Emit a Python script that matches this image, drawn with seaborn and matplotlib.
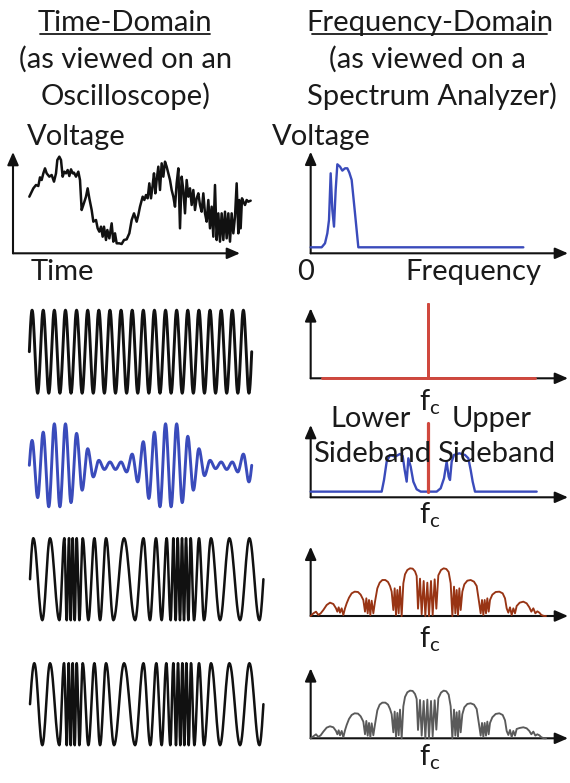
import numpy as np
import matplotlib
matplotlib.use("Agg")
import matplotlib.pyplot as plt
from matplotlib.lines import Line2D
import seaborn as sns

# ---------------- data ----------------
# Row 1, time domain: noisy voltage trace (arbitrary time / voltage units)
noisy_t = [0, 12, 20, 27, 32, 37, 42, 47, 52, 60,
           67, 74, 80, 84, 90, 95, 100, 105, 110, 115,
           120, 125, 130, 134, 140, 147, 152, 157, 162, 170,
           175, 180, 187, 192, 200, 205, 210, 215, 220, 224,
           230, 234, 240, 247, 252, 257, 262, 270, 277, 284,
           292, 300, 307, 314, 322, 327, 332, 340, 345, 350,
           355, 360, 365, 370, 374, 378, 382, 387, 392, 397,
           402, 407, 412, 417, 422, 427, 432, 437, 442, 447,
           452, 457, 462, 467, 472, 477, 482, 487, 492, 497,
           502, 507, 512, 517, 522, 527, 532, 537, 542, 547,
           552, 557, 562, 567, 572, 577, 582, 587, 592, 597,
           602, 607, 612, 617, 622, 627, 630, 634, 638, 642,
           647, 652, 657, 664]
noisy_v = [30, 55, 65, 62, 88, 80, 100, 115, 100, 90,
           95, 75, 100, 140, 150, 140, 90, 105, 100, 110,
           92, 112, 100, 102, 90, 105, 80, -10, 5, 30,
           55, 25, -10, -45, -40, -65, -75, -60, -90, -60,
           -100, -70, -95, -50, -105, -80, -110, -110, -112, -100,
           -98, -80, -40, -20, -45, -25, 0, 30, 20, 35,
           25, 70, 25, 65, 100, 40, 80, 120, 50, 130,
           90, 135, 120, 100, 80, 50, 30, 0, 70, 115,
           -65, 90, 50, -20, 80, 30, 55, 5, 50, -10,
           25, 40, 5, -15, 40, -20, -45, 20, -65, 0,
           -90, 65, -100, -20, -105, -20, -100, -15, -95, -20,
           -105, -20, -80, -30, 70, -80, 20, -65, 25, 15,
           5, 20, 15, 18]

# Row 1, frequency domain: baseband spectrum
base_f = [0, 33, 43, 50, 55, 60, 65, 70, 75, 80, 88, 95, 103, 110, 116, 123, 133, 143, 638]
base_a = [18, 18, 30, 60, 100, 240, 130, 80, 190, 267, 260, 248, 255, 255, 242, 220, 120, 18, 18]

# Row 2: carrier (extrema times in carrier periods, normalised values)
carrier_t = [0, 0.25, 0.75, 1.25, 1.75, 2.25, 2.75, 3.25, 3.75, 4.25, 4.75,
             5.25, 5.75, 6.25, 6.75, 7.25, 7.75, 8.25, 8.75, 9.25, 9.75,
             10.25, 10.75, 11.25, 11.75, 12.25, 12.75, 13.25, 13.75, 14.25, 14.75,
             15.25, 15.75, 16.25, 16.75, 17.25, 17.75, 18.25, 18.75, 19.25, 19.75, 20]
carrier_v = [0, 1, -1, 1, -1, 1, -1, 1, -1, 1, -1,
             1, -1, 1, -1, 1, -1, 1, -1, 1, -1,
             1, -1, 1, -1, 1, -1, 1, -1, 1, -1,
             1, -1, 1, -1, 1, -1, 1, -1, 1, -1, 0]
carrier_f = [33, 353, 353, 353, 673]
carrier_a = [0, 0, 223, 0, 0]

# Row 3: AM
am_t = carrier_t
am_v = [0, 0.60, -0.78, 0.80, -1.0, 1.0, -1.0, 1.0, -0.90, 0.77, -0.60,
        0.40, -0.28, 0.12, -0.10, 0.08, -0.10, 0.08, -0.16, 0.27, -0.40,
        0.57, -0.80, 0.80, -1.0, 1.0, -1.0, 1.0, -0.90, 0.70, -0.60,
        0.40, -0.25, 0.12, -0.08, 0.08, -0.10, 0.08, -0.16, 0.27, -0.40, 0]
am_f = [0, 213, 220, 228, 238, 253, 268, 276, 282, 288, 293, 300, 308, 318, 330,
        378, 390, 400, 408, 414, 418, 423, 430, 446, 463, 473, 480, 486, 493, 678]
am_a = [17, 17, 52, 107, 127, 122, 130, 124, 82, 47, 117, 92, 47, 24, 17,
        17, 27, 57, 107, 62, 52, 107, 127, 132, 127, 117, 82, 47, 17, 17]
am_carrier_f = [353, 353]
am_carrier_a = [17, 222]

# Row 4: FM
fm_t = [0.0, 0.30, 1.11, 1.80, 2.64, 3.09, 3.30, 3.51, 3.66, 3.84, 4.02,
        4.20, 4.44, 4.74, 5.25, 5.79, 6.30, 6.84, 7.50, 8.46, 9.45,
        10.20, 10.79, 11.33, 11.84, 12.29, 12.65, 12.89, 13.10, 13.28, 13.49,
        13.67, 13.85, 14.03, 14.24, 14.45, 14.75, 15.20, 15.65, 16.28, 17.09,
        17.93, 18.89, 19.73, 20.63, 20.99]
fm_v = [0, 1, -1, 1, -1, 1, -1, 1, -1, 1, -1,
        1, -1, 1, -1, 1, -1, 1, -1, 1, -1,
        1, -1, 1, -1, 1, -1, 1, -1, 1, -1,
        1, -1, 1, -1, 1, -1, 1, -1, 1, -1,
        1, -1, 1, -1, 0]
fm_f = [0, 8, 16, 23, 30, 38, 48, 58, 68, 76,
        80, 84, 88, 93, 98, 103, 108, 115, 123, 132,
        142, 150, 158, 163, 167, 171, 175, 179, 183, 188,
        193, 200, 207, 215, 224, 232, 238, 243, 248, 252,
        256, 260, 264, 268, 273, 278, 283, 290, 298, 306,
        313, 318, 322, 328, 333, 339, 344, 350, 355, 361,
        366, 372, 377, 383, 391, 399, 407, 414, 420, 425,
        430, 434, 438, 442, 446, 450, 455, 461, 470, 480,
        490, 498, 505, 510, 514, 518, 522, 526, 530, 534,
        538, 545, 555, 566, 576, 583, 588, 593, 598, 603,
        608, 613, 618, 627, 638, 648, 656, 662, 668, 674,
        680, 686, 692, 700, 706]
fm_a = [0, 8, 13, 3, 8, 18, 33, 40, 36, 23,
        13, 26, 10, 23, 3, 23, 38, 55, 68, 73,
        72, 64, 48, 13, 53, 8, 48, 3, 46, 8,
        43, 83, 100, 108, 108, 102, 90, 73, 18, 83,
        3, 78, 8, 88, 0, 98, 125, 138, 143, 142,
        134, 120, 22, 112, 5, 105, 0, 100, 0, 105,
        3, 110, 22, 122, 138, 143, 141, 132, 98, 0,
        88, 8, 78, 3, 83, 18, 73, 95, 106, 108,
        103, 90, 43, 8, 48, 3, 48, 8, 53, 13,
        48, 64, 72, 73, 68, 53, 23, 10, 26, 3,
        23, 8, 30, 40, 43, 38, 26, 13, 23, 8,
        14, 10, 3, 0, 0]

# Row 5: PM
pm_t = [0.0, 0.39, 1.11, 1.80, 2.64, 3.06, 3.30, 3.48, 3.66, 3.84, 4.02,
        4.20, 4.44, 4.74, 5.25, 5.79, 6.30, 6.84, 7.56, 8.46, 9.45,
        10.20, 10.82, 11.36, 11.84, 12.26, 12.62, 12.89, 13.13, 13.31, 13.52,
        13.70, 13.88, 14.06, 14.27, 14.48, 14.78, 15.20, 15.65, 16.28, 17.09,
        17.93, 18.89, 19.73, 20.63, 20.99]
pm_v = fm_v
pm_f = fm_f
pm_a = [0, 6, 12, 4, 9, 20, 32, 36, 33, 22,
        12, 24, 9, 22, 3, 24, 40, 58, 70, 75,
        74, 66, 50, 12, 52, 8, 46, 3, 45, 9,
        42, 84, 101, 107, 107, 101, 88, 72, 18, 80,
        4, 76, 9, 86, 0, 96, 124, 138, 143, 142,
        133, 118, 25, 115, 8, 112, 0, 116, 0, 112,
        6, 114, 26, 120, 137, 143, 141, 131, 96, 0,
        86, 8, 78, 4, 82, 18, 72, 93, 103, 105,
        101, 88, 42, 8, 46, 4, 46, 8, 50, 12,
        46, 63, 73, 75, 70, 54, 22, 10, 25, 4,
        22, 8, 28, 31, 33, 30, 22, 12, 20, 8,
        12, 9, 3, 0, 0]

# ---------------- styling ----------------
sns.set_style("white")
plt.rcParams['font.family'] = ['Lato', 'DejaVu Sans']
plt.rcParams['mathtext.fontset'] = 'custom'
plt.rcParams['mathtext.rm'] = 'Lato'
plt.rcParams['mathtext.it'] = 'Lato:italic'

BLACK = '#111111'
BLUE = '#3a4bbb'
RED = '#d0483e'
BROWN = '#983414'
GRAY = '#5a5a5a'
TXT = '#1a1a1a'
FS = 21

W, H = 570, 783
fig = plt.figure(figsize=(W / 100, H / 100), dpi=100)
fig.patch.set_facecolor('white')


def panel(x0, x1, ytop, ybot, xmap, ymap):
    ax = fig.add_axes([x0 / W, 1 - ybot / H, (x1 - x0) / W, (ybot - ytop) / H])
    ax.patch.set_alpha(0)
    ax._box = (x0, x1, ytop, ybot, xmap, ymap)
    return ax


def finish(ax):
    x0, x1, ytop, ybot, xmap, ymap = ax._box
    d0, p0, s = xmap
    ax.set_xlim(d0 + (x0 - p0) / s, d0 + (x1 - p0) / s)
    d0, p0, s = ymap
    ax.set_ylim(d0 + (ybot - p0) / s, d0 + (ytop - p0) / s)
    ax.set_xlabel('')
    ax.set_ylabel('')
    ax.axis('off')


def arrows(ax):
    kw = dict(arrowstyle='-|>,head_length=0.55,head_width=0.24', color=BLACK,
              lw=1.5, mutation_scale=14, shrinkA=0, shrinkB=0)
    ax.annotate('', xy=(1, 0), xytext=(0, 0), xycoords='axes fraction',
                textcoords='axes fraction', arrowprops=kw, annotation_clip=False)
    ax.annotate('', xy=(0, 1), xytext=(0, 0), xycoords='axes fraction',
                textcoords='axes fraction', arrowprops=kw, annotation_clip=False)


def smooth(t, v, n=14):
    xs, ys = [], []
    for i in range(len(t) - 1):
        a, b = v[i], v[i + 1]
        s = np.linspace(0, 1, n, endpoint=False)
        if a == 0:
            y = b * np.sin(np.pi / 2 * s)
        elif b == 0:
            y = a * np.cos(np.pi / 2 * s)
        else:
            y = (a + b) / 2 + (a - b) / 2 * np.cos(np.pi * s)
        xs.extend(t[i] + (t[i + 1] - t[i]) * s)
        ys.extend(y)
    xs.append(t[-1])
    ys.append(v[-1])
    return np.array(xs), np.array(ys)


def line(ax, x, y, color, lw):
    sns.lineplot(x=np.asarray(x, float), y=np.asarray(y, float), ax=ax, color=color,
                 linewidth=lw, estimator=None, sort=False, clip_on=False, zorder=4)


# ---------------- left column (time domain) ----------------
ax = panel(13, 240, 152, 253.3, (0, 29.33, 1 / 3), (200, 140, -1 / 3))
line(ax, noisy_t, noisy_v, BLACK, 1.8)
arrows(ax)
finish(ax)

ax = panel(13, 265, 300, 404, (0, 29.33, 11.12), (0, 351.7, -41.5))
x, y = smooth(carrier_t, carrier_v)
line(ax, x, y, BLACK, 2.1)
finish(ax)

ax = panel(13, 265, 413, 517, (0, 29.33, 11.12), (0, 465.3, -41.5))
x, y = smooth(am_t, am_v)
line(ax, x, y, BLUE, 2.1)
finish(ax)

ax = panel(13, 265, 528, 632, (0, 30.0, 11.12), (0, 579.2, -41.0))
x, y = smooth(fm_t, fm_v)
line(ax, x, y, BLACK, 1.8)
finish(ax)

ax = panel(13, 265, 652, 756, (0, 30.0, 11.12), (0, 704.2, -41.0))
x, y = smooth(pm_t, pm_v)
line(ax, x, y, BLACK, 1.8)
finish(ax)

# ---------------- right column (frequency domain) ----------------
RX0, RX1 = 310.67, 568

ax = panel(RX0, RX1, 151.7, 253.3, (0, RX0, 1 / 3), (0, 253.3, -1 / 3))
line(ax, base_f, base_a, BLUE, 1.7)
arrows(ax)
finish(ax)

ax = panel(RX0, RX1, 308.3, 378.3, (0, RX0, 1 / 3), (0, 378.3, -1 / 3))
arrows(ax)
line(ax, carrier_f, carrier_a, RED, 2.1)
finish(ax)

ax = panel(RX0, RX1, 425, 497.3, (0, RX0, 1 / 3), (0, 497.3, -1 / 3))
arrows(ax)
line(ax, am_f, am_a, BLUE, 1.7)
line(ax, am_carrier_f, am_carrier_a, RED, 2.3)
finish(ax)

ax = panel(RX0, RX1, 546.7, 616, (0, RX0, 1 / 3), (0, 616, -1 / 3))
arrows(ax)
line(ax, fm_f, fm_a, BROWN, 1.35)
finish(ax)

ax = panel(RX0, RX1, 668.3, 738.3, (0, RX0, 1 / 3), (0, 738.3, -1 / 3))
arrows(ax)
line(ax, pm_f, pm_a, GRAY, 1.35)
finish(ax)

# ---------------- text ----------------
def txt(x, y, s, ha='left', size=FS):
    fig.text(x / W, 1 - y / H, s, ha=ha, va='baseline', fontsize=size, color=TXT)


def underline(x0, x1, y):
    fig.add_artist(Line2D([x0 / W, x1 / W], [1 - y / H, 1 - y / H],
                          transform=fig.transFigure, color=TXT, lw=1.3))


txt(125, 31, 'Time-Domain', 'center')
underline(40, 210, 34)
txt(125.5, 68, '(as viewed on an', 'center')
txt(125.5, 105, 'Oscilloscope)', 'center')
txt(27, 145, 'Voltage')
txt(429.5, 31, 'Frequency-Domain', 'center')
underline(312, 547, 34)
txt(427.5, 68, '(as viewed on a', 'center')
txt(432, 105, 'Spectrum Analyzer)', 'center')
txt(272, 145, 'Voltage')
txt(31, 280, 'Time')
txt(306, 280, '0', 'center')
txt(405, 280, 'Frequency')
fc = r'$\mathrm{f}_\mathrm{c}$'
for yb in (410, 523, 647, 765):
    txt(430, yb, fc, 'center')
txt(330, 427, 'Lower')
txt(452, 427, 'Upper')
txt(313, 462, 'Sideband')
txt(437, 462, 'Sideband')

fig.savefig('out.png', dpi=100, facecolor='white')
